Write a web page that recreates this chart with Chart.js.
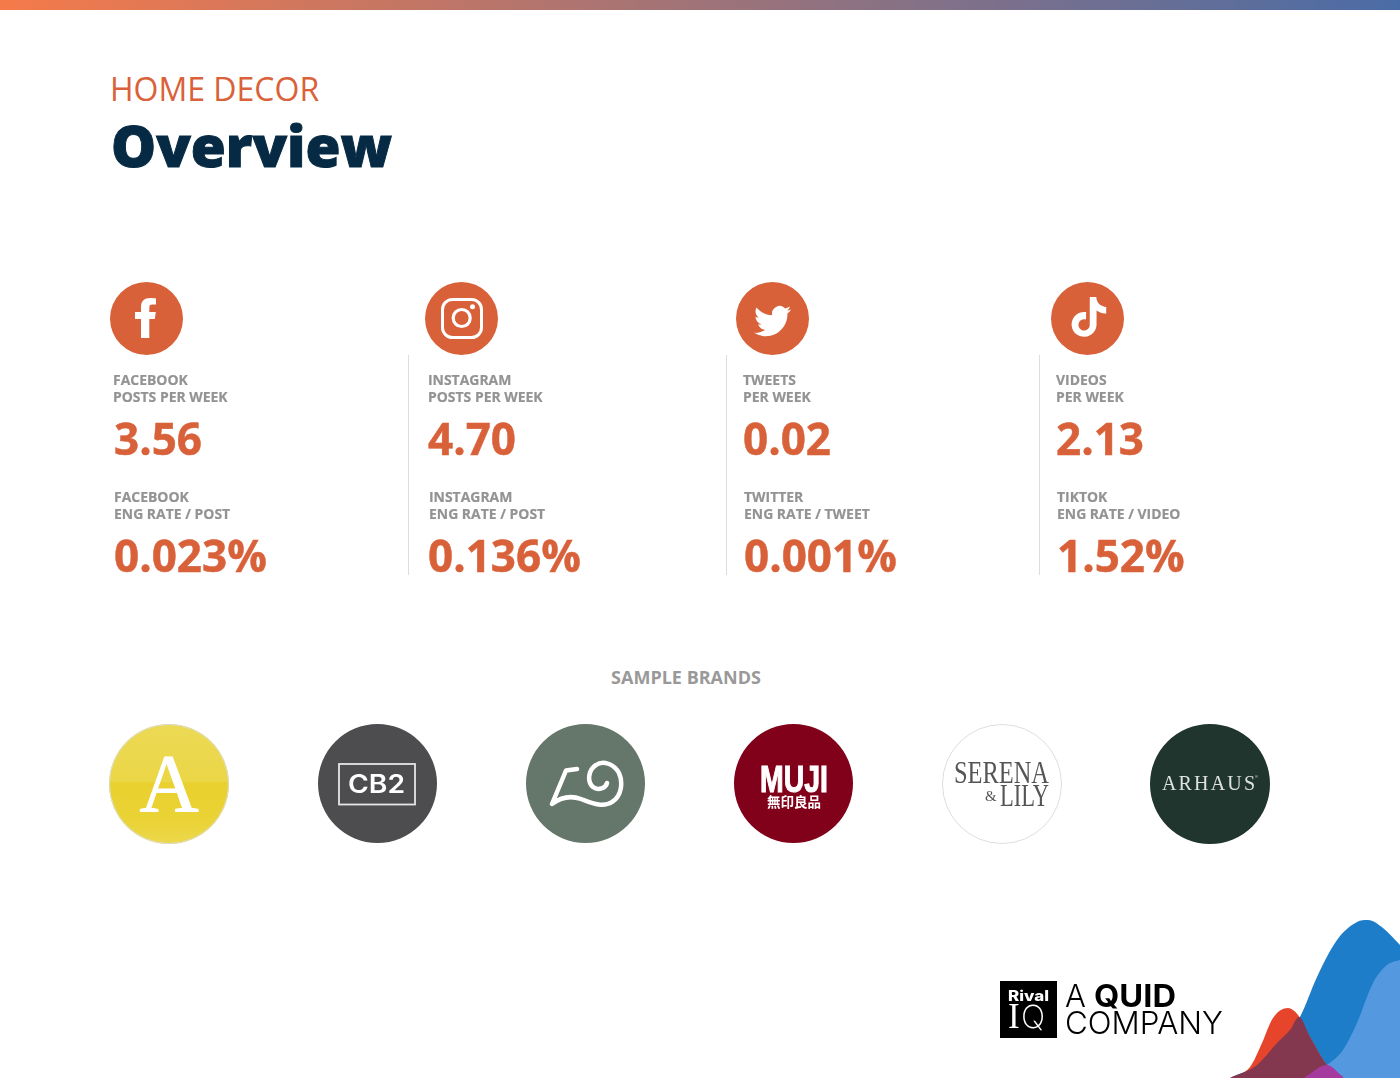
<!DOCTYPE html>
<html>
<head>
<meta charset="utf-8">
<title>Home Decor Overview</title>
<script src="https://cdn.jsdelivr.net/npm/chart.js@4/dist/chart.umd.min.js"></script>
<style>
  html, body { margin: 0; padding: 0; background: #fff; }
  #page { position: relative; width: 1400px; height: 1078px; overflow: hidden; font-family: "Open Sans", sans-serif; }
  #topbar { position: absolute; left: 0; top: 0; width: 1400px; height: 10px; background: linear-gradient(90deg, #f57a4a, #4a6ca6); }
  #kicker { position: absolute; left: 110px; top: 67px; font-size: 32px; line-height: 44px; color: #d9623a; }
  #title { position: absolute; left: 111px; top: 105px; font-size: 56.7px; line-height: 80px; font-weight: 800; color: #062a43; -webkit-text-stroke: 1px #062a43; }
  #sample { position: absolute; left: 486px; width: 400px; top: 665px; text-align: center; font-size: 18px; line-height: 24px; font-weight: 700; color: #999; }
  .label { position: absolute; font-size: 13.95px; line-height: 17px; font-weight: 700; color: #939393; white-space: pre; -webkit-text-stroke: 0.2px #939393; }
  .value { position: absolute; font-size: 44px; line-height: 60px; font-weight: 700; color: #d9613a; white-space: pre; -webkit-text-stroke: 0.5px #d9613a; }
  .rule { position: absolute; top: 355px; height: 220px; width: 1px; background: #ddd; }
  canvas { position: absolute; display: block; }
  #overlay { position: absolute; left: 0; top: 0; }
</style>
</head>
<body>
<div id="page">
  <div id="topbar"></div>
  <div id="kicker">HOME DECOR</div>
  <div id="title">Overview</div>
  <div id="sample">SAMPLE BRANDS</div>
  <canvas id="wave" width="170" height="158" style="left:1230px;top:920px"></canvas>
  <svg id="overlay" width="1400" height="1078" viewBox="0 0 1400 1078" xmlns="http://www.w3.org/2000/svg"></svg>
</div>
<script>
// what the page reports
const CHANNELS = ['facebook', 'instagram', 'twitter', 'tiktok'];
const POST_LABELS = ['FACEBOOK\nPOSTS PER WEEK', 'INSTAGRAM\nPOSTS PER WEEK', 'TWEETS\nPER WEEK', 'VIDEOS\nPER WEEK'];
const POST_VALUES = ['3.56', '4.70', '0.02', '2.13'];
const RATE_LABELS = ['FACEBOOK\nENG RATE / POST', 'INSTAGRAM\nENG RATE / POST', 'TWITTER\nENG RATE / TWEET', 'TIKTOK\nENG RATE / VIDEO'];
const RATE_VALUES = ['0.023%', '0.136%', '0.001%', '1.52%'];
const BRANDS = ['A', 'CB2', 'Roll', 'MUJI', 'Serena & Lily', 'Arhaus'];
const BRAND_COLORS = ['#ebd02c', '#4d4d50', '#65766a', '#81001a', '#ffffff', '#20352e'];

// corner shapes, height above the page bottom
const BLUE_X = [1232, 1257, 1277, 1290, 1300, 1317, 1337, 1357, 1368, 1383, 1400];
const BLUE_H = [1, 13, 35, 48, 61, 101, 138, 156, 158, 150, 133];
const LIGHT_X = [1305, 1327, 1343, 1357, 1373, 1387, 1400];
const LIGHT_H = [1, 13, 28, 55, 95, 113, 118];
const RED_X = [1230, 1250, 1262, 1273, 1288, 1298, 1310, 1327, 1343];
const RED_H = [0, 11, 35, 60, 70, 63, 41, 13, 1];
const MAROON_X = [1230, 1257, 1277, 1290, 1299, 1310, 1327, 1343];
const MAROON_H = [0, 13, 35, 48, 61, 41, 13, 1];
const PURPLE_X = [1305, 1327, 1343];
const PURPLE_H = [1, 13, 1];

// layout
const POST_X = [114, 428, 743, 1056];
const POST_LABEL_X = [113, 428, 743, 1056];
const RATE_X = [114, 428, 744, 1057];
const RATE_LABEL_X = [114, 429, 744, 1057];
const RULE_X = [408, 726, 1039];
const ICON_X = [110, 425, 736, 1051];
const BRAND_X = [109, 318, 526, 734, 942, 1150];
const BRAND_SIZE = [120, 119, 119, 119, 120, 120];

const page = document.getElementById('page');
const overlay = document.getElementById('overlay');

function addText(className, text, left, top) {
  const el = document.createElement('div');
  el.className = className;
  el.textContent = text;
  el.style.left = left + 'px';
  el.style.top = top + 'px';
  page.appendChild(el);
}

function addDisc(left, top, size, color) {
  const canvas = document.createElement('canvas');
  canvas.width = size;
  canvas.height = size;
  canvas.style.left = left + 'px';
  canvas.style.top = top + 'px';
  page.insertBefore(canvas, overlay);
  new Chart(canvas, {
    type: 'doughnut',
    data: { labels: ['disc'], datasets: [{ data: [1], backgroundColor: color, borderWidth: 0 }] },
    options: {
      responsive: false,
      animation: false,
      cutout: 0,
      events: [],
      plugins: { legend: { display: false }, tooltip: { enabled: false } },
    },
  });
}

function yellowWash(ctx) {
  const g = ctx.chart.ctx.createLinearGradient(0, 0, 0, 120);
  g.addColorStop(0, '#ecda55');
  g.addColorStop(0.48, '#ebd646');
  g.addColorStop(0.49, '#e9d02e');
  g.addColorStop(0.8, '#ead335');
  g.addColorStop(1, '#ecd84c');
  return g;
}

CHANNELS.forEach((name, i) => {
  addDisc(ICON_X[i], 282, 73, '#d9613a');
  addText('label', POST_LABELS[i], POST_LABEL_X[i], 371);
  addText('value', POST_VALUES[i], POST_X[i], 408);
  addText('label', RATE_LABELS[i], RATE_LABEL_X[i], 488);
  addText('value', RATE_VALUES[i], RATE_X[i], 525);
});

RULE_X.forEach((x) => {
  const rule = document.createElement('div');
  rule.className = 'rule';
  rule.style.left = x + 'px';
  page.appendChild(rule);
});

BRANDS.forEach((name, i) => {
  addDisc(BRAND_X[i], 724, BRAND_SIZE[i], i === 0 ? yellowWash : BRAND_COLORS[i]);
});

function toPairs(xs, hs) {
  return xs.map((x, i) => ({ x, y: hs[i] }));
}

function waveSet(label, xs, hs, color) {
  return {
    label,
    data: toPairs(xs, hs),
    backgroundColor: color,
    borderWidth: 0,
    pointRadius: 0,
    fill: 'origin',
    cubicInterpolationMode: 'monotone',
  };
}

// first dataset is painted last
new Chart(document.getElementById('wave'), {
  type: 'line',
  data: {
    datasets: [
      waveSet('purple', PURPLE_X, PURPLE_H, '#a53b9e'),
      waveSet('maroon', MAROON_X, MAROON_H, '#84384f'),
      waveSet('red', RED_X, RED_H, '#e6452b'),
      waveSet('light', LIGHT_X, LIGHT_H, '#5499e0'),
      waveSet('blue', BLUE_X, BLUE_H, '#1e7dc8'),
    ],
  },
  options: {
    responsive: false,
    animation: false,
    events: [],
    plugins: { legend: { display: false }, tooltip: { enabled: false } },
    scales: {
      x: { type: 'linear', min: 1230, max: 1400, display: false },
      y: { min: 0, max: 158, display: false },
    },
  },
});

// logos and glyphs on top of the discs
overlay.innerHTML = `
  <path fill="#fff" d="M141 338V319H135V312H141V307C141 301 144.500 298 150 298C152.500 298 155 298.300 156 298.500V304.500H152.500C150 304.500 149.300 305.700 149.300 307.700V312H155.800L154.800 319H149.300V338Z"/>
  <g fill="none" stroke="#fff">
    <rect x="442.500" y="299.500" width="39" height="38" rx="10" stroke-width="3"/>
    <circle cx="461.700" cy="318" r="8.500" stroke-width="3.200"/>
  </g>
  <circle cx="472.500" cy="306.800" r="2.500" fill="#fff"/>
  <path fill="#fff" transform="translate(754 302.500) scale(1.55)" d="M23.953 4.57a10 10 0 01-2.825.775 4.958 4.958 0 002.163-2.723c-.951.555-2.005.959-3.127 1.184a4.92 4.92 0 00-8.384 4.482C7.69 8.095 4.067 6.13 1.64 3.162a4.822 4.822 0 00-.666 2.475c0 1.71.87 3.213 2.188 4.096a4.904 4.904 0 01-2.228-.616v.06a4.923 4.923 0 003.946 4.827 4.996 4.996 0 01-2.212.085 4.936 4.936 0 004.604 3.417 9.867 9.867 0 01-6.102 2.105c-.39 0-.779-.023-1.17-.067a13.995 13.995 0 007.557 2.209c9.053 0 13.998-7.496 13.998-13.985 0-.21 0-.42-.015-.63A9.935 9.935 0 0024 4.59z"/>
  <path fill="#fff" transform="translate(1069 297) scale(1.66)" d="M12.525.02c1.31-.02 2.61-.01 3.91-.02.08 1.530.63 3.090 1.750 4.170 1.120 1.110 2.700 1.620 4.240 1.790v4.030c-1.440-.05-2.890-.35-4.200-.97-.57-.26-1.100-.59-1.620-.93-.01 2.920.01 5.840-.02 8.750-.08 1.400-.54 2.790-1.350 3.940-1.310 1.920-3.580 3.170-5.910 3.210-1.430.08-2.860-.31-4.080-1.030-2.020-1.190-3.440-3.370-3.650-5.710-.02-.5-.03-1-.01-1.490.18-1.900 1.120-3.720 2.580-4.960 1.660-1.440 3.980-2.130 6.150-1.720.02 1.480-.04 2.960-.04 4.440-.99-.32-2.150-.23-3.020.37-.63.41-1.110 1.040-1.360 1.750-.21.51-.15 1.070-.14 1.610.24 1.640 1.820 3.020 3.500 2.870 1.120-.01 2.190-.66 2.770-1.610.19-.33.4-.67.41-1.060.1-1.790.06-3.570.07-5.360.01-4.030-.01-8.050.02-12.070z"/>

  <circle cx="169" cy="784" r="59.500" fill="none" stroke="#dcdcd4" stroke-width="1"/>
  <text x="169" y="811" text-anchor="middle" font-family="Liberation Serif" font-size="82" fill="#fff" stroke="#fff" stroke-width="0.900">A</text>

  <rect x="339" y="764" width="76" height="40.500" fill="none" stroke="#e6e6e6" stroke-width="1.800"/>
  <text x="348" y="793" font-family="Inter" font-weight="600" font-size="25" fill="#fff" textLength="57" lengthAdjust="spacingAndGlyphs">CB2</text>

  <path fill="none" stroke="#fff" stroke-width="4.500" stroke-linecap="round" stroke-linejoin="round"
    d="M577 769L566 770.500L552 804C560 798 570 795 581 799C592 803 603 808 612 802C622 796 623 782 619 773C614 764 603 760 596 765C588 770 587 782 593 787C598 791 606 788 607 783"/>

  <text x="760" y="792" font-family="Liberation Sans" font-weight="700" font-size="37" fill="#fff" stroke="#fff" stroke-width="1.100" textLength="68" lengthAdjust="spacingAndGlyphs">MUJI</text>
  <text x="767" y="807" font-family="Noto Sans CJK JP" font-weight="700" font-size="13.500" fill="#fff" textLength="54">無印良品</text>

  <circle cx="1002" cy="784" r="59.500" fill="none" stroke="#dedede" stroke-width="1"/>
  <text x="954" y="783" font-family="Liberation Serif" font-size="32" fill="#555" textLength="95" lengthAdjust="spacingAndGlyphs">SERENA</text>
  <text x="985" y="801" font-family="Liberation Serif" font-size="15" fill="#555">&amp;</text>
  <text x="1000" y="806" font-family="Liberation Serif" font-size="32" fill="#555" textLength="49" lengthAdjust="spacingAndGlyphs">LILY</text>

  <text x="1162" y="790" font-family="Liberation Serif" font-size="20" fill="#dfe3e0" textLength="93">ARHAUS</text>
  <text x="1255" y="778" font-family="Liberation Sans" font-size="4" fill="#dfe3e0">®</text>

  <rect x="1000" y="981" width="57" height="57" fill="#000"/>
  <text x="1008" y="1001" font-family="Inter" font-weight="800" font-size="14.500" fill="#fff" textLength="41" lengthAdjust="spacingAndGlyphs">Rival</text>
  <text y="1028" font-family="Liberation Serif" font-size="35" fill="#fff"><tspan x="1008">I</tspan><tspan x="1021" font-family="Inter" font-weight="200" font-size="32">Q</tspan></text>
  <text x="1065" y="1007" font-family="Inter" font-weight="300" font-size="31" fill="#000">A</text>
  <text x="1094" y="1007" font-family="Inter" font-weight="700" font-size="31" fill="#000" textLength="82" lengthAdjust="spacingAndGlyphs">QUID</text>
  <text x="1065" y="1034" font-family="Inter" font-weight="300" font-size="31" fill="#000" textLength="158" lengthAdjust="spacingAndGlyphs">COMPANY</text>
`;
</script>
</body>
</html>
